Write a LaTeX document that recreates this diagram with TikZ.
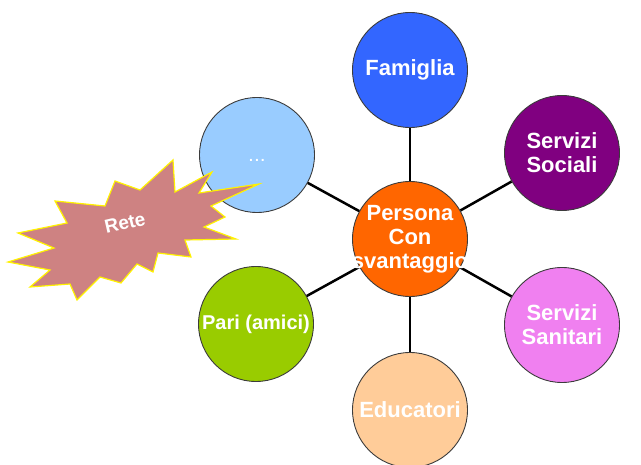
\documentclass[tikz,border=0pt]{standalone}
\usepackage{fontspec}
\setmainfont{Liberation Sans}
\definecolor{cfam}{RGB}{51,102,255}
\definecolor{csoc}{RGB}{128,0,128}
\definecolor{csan}{RGB}{240,128,240}
\definecolor{cedu}{RGB}{255,204,153}
\definecolor{cpar}{RGB}{153,204,0}
\definecolor{cdot}{RGB}{153,204,255}
\definecolor{cper}{RGB}{255,102,0}
\definecolor{cstar}{RGB}{206,130,130}
\definecolor{crim}{RGB}{60,60,60}
\tikzset{
  ball/.style={circle, draw=crim, line width=0.9pt, minimum size=115pt, inner sep=0pt},
  lab/.style={text=white, align=center, inner sep=0pt, font=\fontsize{22}{24}\selectfont\bfseries},
  link/.style={draw=black, line width=2.5pt},
  burst/.style={fill=cstar, draw=yellow, line width=1.2pt, line join=miter}
}
\begin{document}
\begin{tikzpicture}[x=1pt, y=-1pt]
\useasboundingbox (0,0) rectangle (641,465);

% hub and satellites
\node[ball, fill=cper] (per) at (410,239) {};
\node[ball, fill=cfam] (fam) at (410,70) {};
\node[ball, fill=csoc] (soc) at (562,153) {};
\node[ball, fill=csan] (san) at (562,325) {};
\node[ball, fill=cedu] (edu) at (410,410) {};
\node[ball, fill=cpar] (par) at (256,324) {};
\node[ball, fill=cdot] (dot) at (257,155) {};

% spokes
\foreach \t in {fam,soc,san,edu,par,dot}
  \draw[link] (per) -- (\t);

% labels
\node[lab] at (per) {Persona\\Con\\svantaggio};
\node[lab] at (fam) {Famiglia};
\node[lab] at (soc) {Servizi\\Sociali};
\node[lab] at (san) {Servizi\\Sanitari};
\node[lab] at (edu) {Educatori};
\node[lab, font=\fontsize{20}{22}\selectfont\bfseries] at (par) {Pari (amici)};
\node[lab, font=\fontsize{14}{16}\selectfont\bfseries] at (257,160) {.\kern2pt.\kern2pt.};

% starburst callout
\draw[burst] (115,181) -- (140,190) -- (173,160) -- (175,192) -- (212,172)
  -- (199,193) -- (259,184) -- (211,206) -- (225,217) -- (204,227)
  -- (236,239) -- (185,240) -- (191,257) -- (158,253) -- (153,272)
  -- (137,264) -- (121,283) -- (100,277) -- (77,300) -- (70,284)
  -- (30,287) -- (50,270) -- (8,262) -- (54,248) -- (18,233)
  -- (67,223) -- (55,201) -- (105,206) -- cycle;
\node[lab, font=\fontsize{19}{21}\selectfont\bfseries, rotate=13] (rete) at (125,223) {Rete};
\end{tikzpicture}
\end{document}
